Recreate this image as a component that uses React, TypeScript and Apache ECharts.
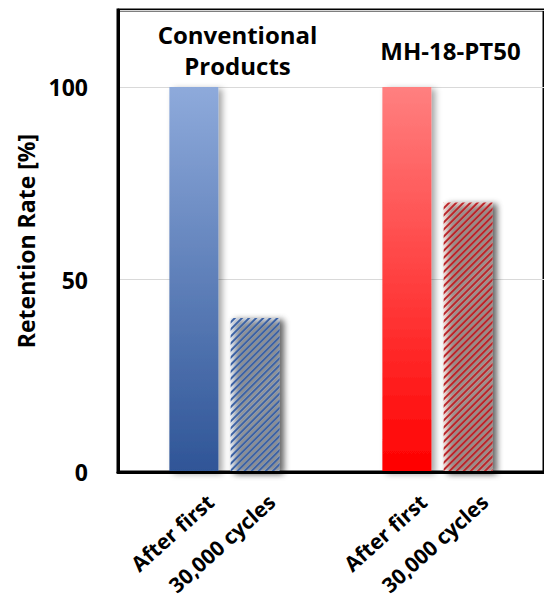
import React, { useEffect, useRef } from "react";
import * as echarts from "echarts";

const groups = ["Conventional\nProducts", "MH-18-PT50"];
const seriesNames = ["After first", "30,000 cycles"];
const afterFirst = [100, 100];
const after30k = [40, 70];
const yTicks = { min: 0, max: 120, interval: 50 };
const yName = "Retention Rate [%]";

const FONT = "Open Sans";

export default function App() {
  const ref = useRef<HTMLDivElement>(null);
  useEffect(() => {
    if (!ref.current) return;
    const chart = echarts.init(ref.current, undefined, { renderer: "svg" });
    const grad = (top: string, bottom: string) =>
      new echarts.graphic.LinearGradient(0, 0, 0, 1, [
        { offset: 0, color: top },
        { offset: 1, color: bottom },
      ]);
    const shadow = {
      shadowColor: "rgba(0,0,0,0.35)",
      shadowBlur: 6,
      shadowOffsetX: 4,
      shadowOffsetY: 2,
    };
    const decal = (c: string) => ({
      symbol: "rect",
      symbolSize: 1,
      color: c,
      dashArrayX: [1, 0],
      dashArrayY: [2, 2.5],
      rotation: -Math.PI / 4,
    });
    const solidStyles = [
      { color: grad("#8eaadb", "#2f5597"), ...shadow },
      { color: grad("#ff8080", "#ff0000"), ...shadow },
    ];
    const hatchStyles = [
      { color: "#eaf0f9", decal: decal("#3d62a3"), ...shadow },
      { color: "#fdeae6", decal: decal("#b8262a"), ...shadow },
    ];
    const labelBase = {
      show: true,
      position: "bottom",
      rotate: 42,
      align: "right",
      verticalAlign: "middle",
      offset: [-2, 27],
      fontFamily: FONT,
      fontWeight: "bold",
      fontSize: 21,
      lineHeight: 22,
      color: "#000",
    };
    chart.setOption({
      animation: false,
      grid: {
        left: 118,
        right: -8,
        top: 10,
        bottom: 130,
        show: true,
        borderColor: "#000",
        borderWidth: 3,
      },
      xAxis: [
        {
          type: "category",
          data: groups,
          position: "bottom",
          axisLine: { show: true, lineStyle: { color: "#000", width: 3 } },
          axisTick: { show: false },
          axisLabel: { show: false },
          z: 5,
        },
        {
          type: "category",
          data: groups,
          position: "top",
          axisLine: { show: false },
          axisTick: { show: false },
          axisLabel: {
            inside: true,
            margin: 40,
            verticalAlign: "middle",
            padding: [0, 0, 0, 26],
            fontFamily: FONT,
            fontWeight: "bold",
            fontSize: 24,
            lineHeight: 31,
            color: "#000",
          },
        },
      ],
      yAxis: {
        type: "value",
        min: yTicks.min,
        max: yTicks.max,
        interval: yTicks.interval,
        name: yName,
        nameLocation: "middle",
        nameGap: 80,
        nameTextStyle: {
          fontFamily: FONT,
          fontWeight: "bold",
          fontSize: 23,
          color: "#000",
        },
        axisLine: { show: true, lineStyle: { color: "#000", width: 3 } },
        axisTick: { show: false },
        axisLabel: {
          margin: 30,
          fontFamily: FONT,
          fontWeight: "bold",
          fontSize: 23,
          color: "#000",
          formatter: (v: number) => (v === yTicks.max ? "" : String(v)),
        },
        splitLine: { show: true, lineStyle: { color: "#d9d9d9", width: 1 } },
      },
      series: [
        {
          name: seriesNames[0],
          type: "bar",
          barWidth: 49,
          barGap: "25%",
          data: afterFirst.map((v, i) => ({ value: v, itemStyle: solidStyles[i] })),
          label: { ...labelBase, formatter: seriesNames[0] },
        },
        {
          name: seriesNames[1],
          type: "bar",
          barWidth: 49,
          barGap: "25%",
          data: after30k.map((v, i) => ({ value: v, itemStyle: hatchStyles[i] })),
          label: { ...labelBase, formatter: seriesNames[1] },
        },
      ],
    });
    return () => chart.dispose();
  }, []);
  return (
    <div
      ref={ref}
      style={{ position: "absolute", left: 0, top: 0, width: 544, height: 602 }}
    />
  );
}
